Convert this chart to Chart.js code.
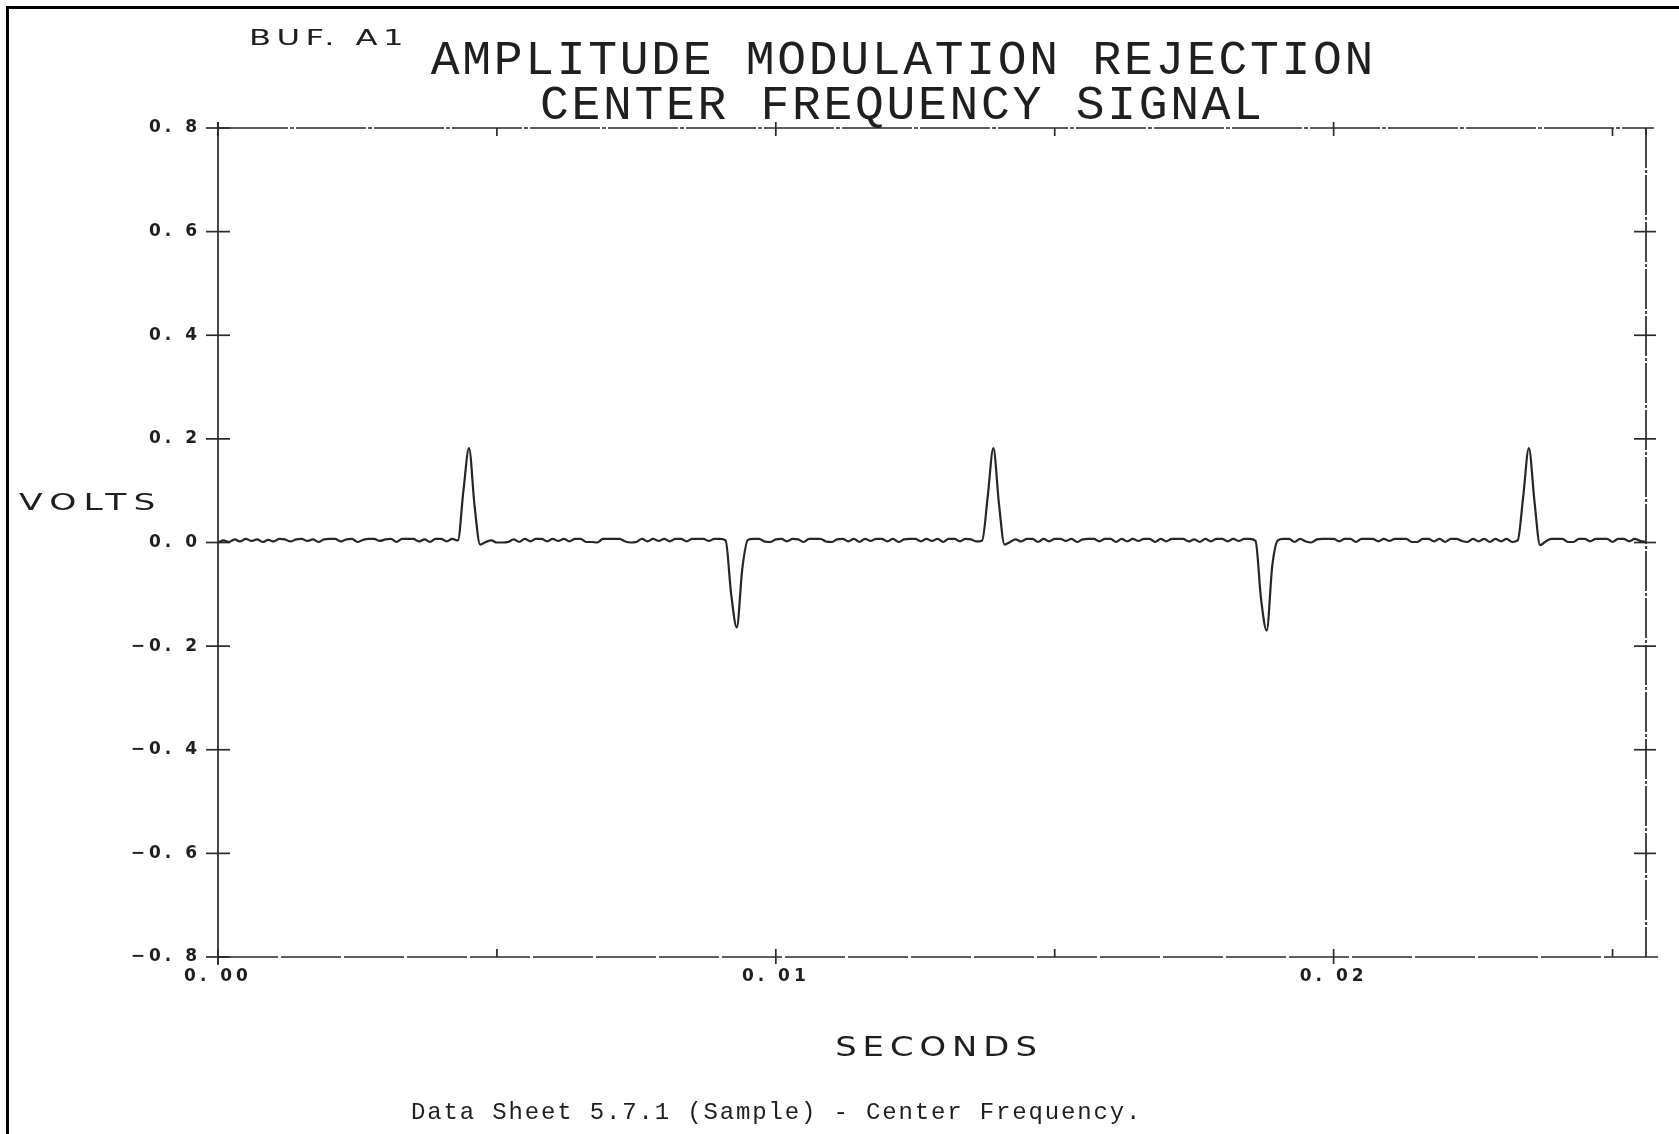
<!DOCTYPE html>
<html>
<head>
<meta charset="utf-8">
<title>Amplitude Modulation Rejection - Center Frequency Signal</title>
<script src="https://cdn.jsdelivr.net/npm/chart.js@4.4.1/dist/chart.umd.min.js"></script>
<style>
html,body{margin:0;padding:0;background:#fff;overflow:hidden}
#wrap{position:relative;width:1679px;height:1134px;background:#fff}
#amChart{position:absolute;left:0;top:0}
#frame{position:absolute;left:6px;top:6px;right:-4px;bottom:-4px;border-left:3px solid #000;border-top:3px solid #000;pointer-events:none}
</style>
</head>
<body>
<div id="wrap"><canvas id="amChart" width="1679" height="1134"></canvas><div id="frame"></div></div>
<script>
// sampled buffer A1, one value every 0.1 ms
const sampleStep=0.0001;
const timeMax=0.0256;
const volts=[
  0.000,0.004,0.001,0.006,0.002,0.007,0.003,0.006,0.001,0.005,
  0.002,0.007,0.006,0.002,0.006,0.007,0.003,0.006,0.001,0.006,
  0.007,0.007,0.002,0.006,0.007,0.001,0.005,0.007,0.007,0.003,
  0.006,0.007,0.001,0.007,0.007,0.007,0.002,0.006,0.001,0.007,
  0.007,0.002,0.007,0.004,0.100,0.182,0.070,-0.004,0.001,0.004,
  0.000,0.000,0.001,0.006,0.001,0.007,0.002,0.007,0.007,0.002,
  0.007,0.003,0.007,0.002,0.007,0.007,0.001,0.001,0.000,0.007,
  0.007,0.007,0.007,0.002,0.000,0.001,0.007,0.002,0.007,0.003,
  0.007,0.002,0.007,0.007,0.002,0.007,0.007,0.007,0.003,0.007,
  0.007,0.004,-0.100,-0.164,-0.050,0.005,0.007,0.007,0.002,0.001,
  0.006,0.007,0.002,0.007,0.006,0.001,0.007,0.007,0.007,0.002,
  0.001,0.006,0.007,0.002,0.007,0.001,0.007,0.003,0.007,0.007,
  0.002,0.007,0.001,0.006,0.007,0.007,0.002,0.007,0.003,0.007,
  0.001,0.007,0.007,0.002,0.007,0.006,0.002,0.004,0.090,0.182,
  0.075,-0.004,0.001,0.006,0.002,0.007,0.007,0.001,0.007,0.002,
  0.007,0.007,0.003,0.007,0.001,0.006,0.007,0.007,0.002,0.007,
  0.007,0.001,0.007,0.002,0.007,0.003,0.007,0.007,0.001,0.007,
  0.002,0.007,0.007,0.007,0.002,0.006,0.001,0.007,0.002,0.007,
  0.007,0.002,0.007,0.003,0.007,0.007,0.003,-0.110,-0.170,-0.045,
  0.004,0.007,0.007,0.001,0.007,0.002,0.000,0.006,0.007,0.007,
  0.007,0.002,0.007,0.007,0.001,0.007,0.007,0.007,0.002,0.007,
  0.003,0.007,0.007,0.007,0.001,0.001,0.007,0.007,0.002,0.007,
  0.001,0.007,0.007,0.003,0.001,0.007,0.002,0.007,0.001,0.007,
  0.002,0.007,0.001,0.004,0.090,0.182,0.080,-0.005,0.002,0.007,
  0.007,0.007,0.001,0.001,0.007,0.007,0.002,0.007,0.007,0.007,
  0.001,0.007,0.007,0.002,0.007,0.003,0.001
];
const voltTicks=[-0.8,-0.6,-0.4,-0.2,0,0.2,0.4,0.6,0.8];
const voltLabels=["\u22120. 8","\u22120. 6","\u22120. 4","\u22120. 2","0. 0","0. 2","0. 4","0. 6","0. 8"];
const timeTicks=[0,0.01,0.02];
const timeLabels=["0. 00","0. 01","0. 02"];
const timeMinorTicks=[0.005,0.015,0.025];
const titleLines=["AMPLITUDE MODULATION REJECTION","CENTER FREQUENCY SIGNAL"];
const plotId="BUF. A1",yTitle="VOLTS",xTitle="SECONDS";
const caption="Data Sheet 5.7.1 (Sample) - Center Frequency.";

const inkColor="#1f1f1f",lineColor="#2a2a2a";

function plotText(ctx,text,x,y,o){
  const sp=o.spacing||0,sx=o.stretch||1;
  ctx.save();ctx.font=o.font;ctx.letterSpacing=sp+"px";ctx.fillStyle=inkColor;
  ctx.textBaseline="alphabetic";ctx.textAlign="left";
  const w=(ctx.measureText(text).width-sp)*sx;
  ctx.translate(o.align==="center"?x-w/2:x,y);ctx.scale(sx,1);ctx.fillText(text,0,0);
  ctx.restore();
}

// pen-plotter style frame: crossing ticks on the left/right, short ticks top/bottom
const plotterFrame={
  id:"plotterFrame",
  beforeDraw(chart){chart.ctx.letterSpacing="4px";},
  beforeDatasetsDraw(chart){
    const {ctx,chartArea:a,scales:{x,y}}=chart;
    ctx.save();ctx.letterSpacing="0px";ctx.strokeStyle=lineColor;ctx.lineWidth=1.7;ctx.lineCap="butt";
    const seg=(x1,y1,x2,y2,dash)=>{ctx.setLineDash(dash||[]);ctx.beginPath();ctx.moveTo(x1,y1);ctx.lineTo(x2,y2);ctx.stroke();};
    seg(a.left,a.top-6,a.left,a.bottom+8);
    seg(a.left,a.top,a.right+8,a.top,[70,2,4,2]);
    seg(a.right,a.top,a.right,a.bottom,[40,2,3,2]);
    seg(a.left,a.bottom,a.right+12,a.bottom,[60,3]);
    voltTicks.forEach(v=>{
      const py=y.getPixelForValue(v);
      seg(a.left-12,py,a.left+12,py);
      if(Math.abs(v)<0.8)seg(a.right-12,py,a.right+10,py);
    });
    timeTicks.forEach(t=>{const px=x.getPixelForValue(t);seg(px,a.top-6,px,a.top+8);seg(px,a.bottom-8,px,a.bottom+7);});
    timeMinorTicks.forEach(t=>{const px=x.getPixelForValue(t);seg(px,a.top,px,a.top+8);seg(px,a.bottom-8,px,a.bottom);});
    seg(a.right,a.top,a.right,a.top+7);
    ctx.restore();
  },
  afterDraw(chart){
    const ctx=chart.ctx;
    plotText(ctx,plotId,249,45,{font:'21.5px "DejaVu Sans"',stretch:1.5,spacing:3.6});
    plotText(ctx,titleLines[0],902,74,{font:'48px "Liberation Mono"',spacing:2.7,align:"center"});
    plotText(ctx,titleLines[1],901,119,{font:'48px "Liberation Mono"',spacing:2.7,align:"center"});
    plotText(ctx,yTitle,19,510,{font:'23px "DejaVu Sans"',stretch:1.5,spacing:4.8});
    plotText(ctx,xTitle,936,1056,{font:'26px "DejaVu Sans"',stretch:1.3,spacing:4.6,align:"center"});
    plotText(ctx,caption,411,1119,{font:'24px "Liberation Mono"',spacing:1.85});
  }
};

const tickFont={family:"DejaVu Sans",size:17,weight:"bold"};

new Chart(document.getElementById("amChart"),{
  type:"line",
  data:{datasets:[{
    data:volts.map((v,i)=>({x:i*sampleStep,y:v})),
    borderColor:"#262626",borderWidth:2.2,pointRadius:0,cubicInterpolationMode:"monotone",fill:false
  }]},
  options:{
    responsive:false,animation:false,devicePixelRatio:1,
    layout:{padding:{top:128,right:33,bottom:0,left:0}},
    plugins:{legend:{display:false},tooltip:{enabled:false},title:{display:false}},
    scales:{
      x:{
        type:"linear",min:0,max:timeMax,
        grid:{display:false,drawTicks:false},border:{display:false},
        afterBuildTicks:s=>{s.ticks=timeTicks.map(v=>({value:v}));},
        afterFit:s=>{s.height=177;},
        ticks:{padding:9,color:inkColor,font:tickFont,maxRotation:0,autoSkip:false,callback:(v,i)=>timeLabels[i]}
      },
      y:{
        type:"linear",min:-0.8,max:0.8,
        grid:{display:false,drawTicks:false},border:{display:false},
        afterBuildTicks:s=>{s.ticks=voltTicks.map(v=>({value:v}));},
        afterFit:s=>{s.width=218;},
        ticks:{padding:17,color:inkColor,font:tickFont,autoSkip:false,callback:(v,i)=>voltLabels[i]}
      }
    }
  },
  plugins:[plotterFrame]
});
</script>
</body>
</html>
